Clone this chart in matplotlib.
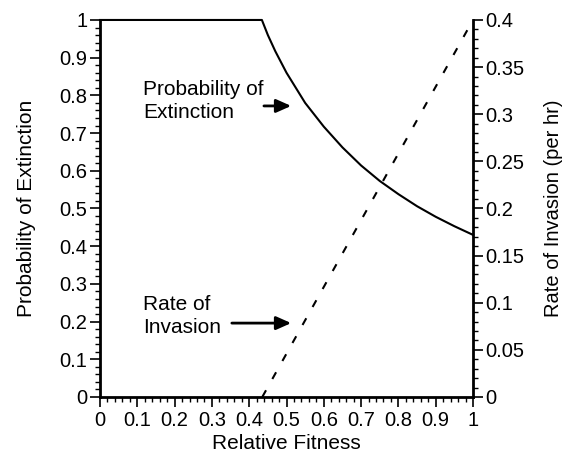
import matplotlib.pyplot as plt
from matplotlib.ticker import MultipleLocator
import numpy as np

plt.rcParams['font.family'] = ['Liberation Sans', 'DejaVu Sans']

# extinction curve
fit_ext = [0.0, 0.434, 0.45, 0.47, 0.5, 0.525, 0.55, 0.6, 0.65, 0.7, 0.75, 0.8, 0.85, 0.9, 0.95, 1.0]
p_ext = [1.0, 1.0, 0.96, 0.917, 0.86, 0.82, 0.78, 0.717, 0.662, 0.614, 0.573, 0.538, 0.506, 0.478, 0.453, 0.43]

# invasion rate (right axis)
fit_inv = [0.435, 1.0]
rate_inv = [0.0, 0.4]

fig = plt.figure(figsize=(5.66, 4.57), dpi=100)
ax = fig.add_axes([0.1767, 0.1313, 0.659, 0.825])
ax2 = ax.twinx()

ax.plot(fit_ext, p_ext, color='black', lw=1.5, clip_on=False, zorder=5)
ax2.plot(fit_inv, rate_inv, color='black', lw=1.5, ls=(0, (3.7, 6.2)), clip_on=False)

ax.set_xlim(0, 1)
ax.set_ylim(0, 1)
ax2.set_ylim(0, 0.4)

for a in (ax, ax2):
    a.spines['top'].set_visible(False)
    for s in a.spines.values():
        s.set_linewidth(2)
ax.spines['right'].set_visible(False)
ax2.spines['left'].set_visible(False)
ax2.spines['bottom'].set_visible(False)

ax.xaxis.set_major_locator(MultipleLocator(0.1))
ax.xaxis.set_minor_locator(MultipleLocator(0.02))
ax.yaxis.set_major_locator(MultipleLocator(0.1))
ax.yaxis.set_minor_locator(MultipleLocator(0.02))
ax2.yaxis.set_major_locator(MultipleLocator(0.05))
ax2.yaxis.set_minor_locator(MultipleLocator(0.01))

xt = np.round(np.arange(0, 1.01, 0.1), 1)
ax.set_xticks(xt)
ax.set_xticklabels(['%g' % v for v in xt])
yt = np.round(np.arange(0, 1.01, 0.1), 1)
ax.set_yticks(yt)
ax.set_yticklabels(['%g' % v for v in yt])
rt = np.round(np.arange(0, 0.401, 0.05), 2)
ax2.set_yticks(rt)
ax2.set_yticklabels(['%g' % v for v in rt])

ax.tick_params(which='major', length=7, width=1.2, labelsize=14.5, pad=2)
ax.tick_params(which='minor', length=3.5, width=1)
ax.tick_params(axis='x', which='major', pad=3)
ax2.tick_params(which='major', length=7, width=1.2, labelsize=14.5, pad=2)
ax2.tick_params(which='minor', length=3.5, width=1)

ax.set_xlabel('Relative Fitness', fontsize=15, labelpad=3)
ax.set_ylabel('Probability of Extinction', fontsize=15, labelpad=17)
ax2.set_ylabel('Rate of Invasion (per hr)', fontsize=14.5, labelpad=14)

ax.text(0.115, 0.785, 'Probability of\nExtinction', fontsize=15, ha='left', va='center', linespacing=1.3)
ax.annotate('', xy=(0.52, 0.772), xytext=(0.432, 0.772),
            arrowprops=dict(arrowstyle='-|>,head_length=0.9,head_width=0.4', color='black', lw=2))
ax.text(0.115, 0.215, 'Rate of\nInvasion', fontsize=15, ha='left', va='center', linespacing=1.3)
ax.annotate('', xy=(0.52, 0.196), xytext=(0.346, 0.196),
            arrowprops=dict(arrowstyle='-|>,head_length=0.9,head_width=0.4', color='black', lw=2))

fig.savefig('out.png', dpi=100)
